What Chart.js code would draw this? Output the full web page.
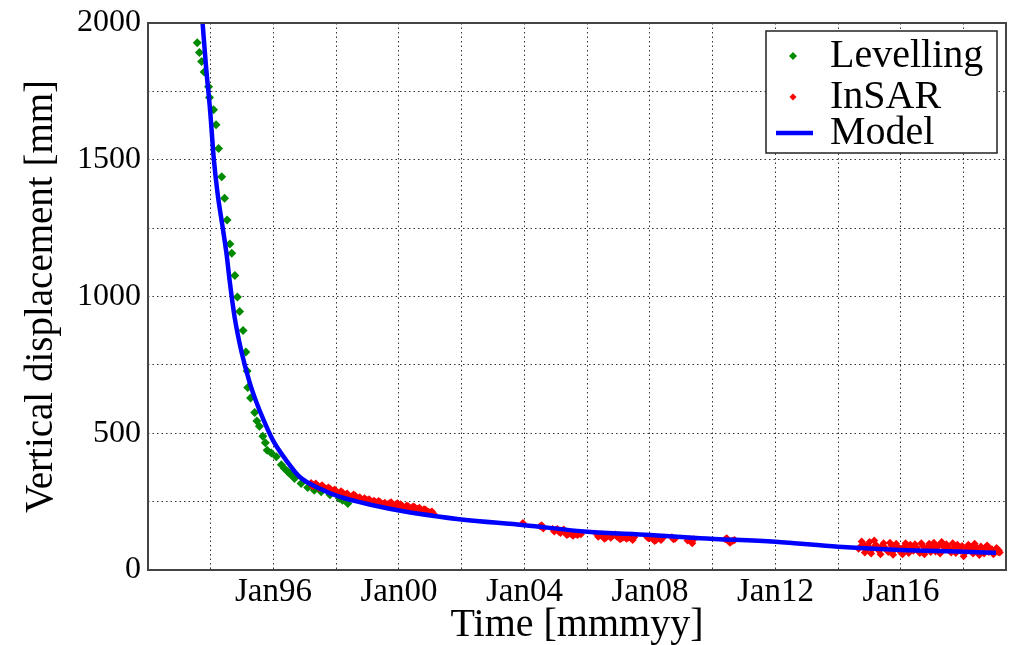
<!DOCTYPE html>
<html>
<head>
<meta charset="utf-8">
<title>Vertical displacement</title>
<script src="https://cdn.jsdelivr.net/npm/chart.js@4.4.1/dist/chart.umd.min.js"></script>
<style>
  body { margin: 0; background: #fff; }
  canvas { display: block; }
</style>
</head>
<body>
<canvas id="chart" width="1015" height="645"></canvas>
<script>
// Levelling (green diamonds)
const levYears = [1993.57, 1993.64, 1993.71, 1993.79, 1993.93, 1993.96, 1994.09, 1994.17, 1994.25, 1994.35,
  1994.44, 1994.52, 1994.61, 1994.67, 1994.77, 1994.85, 1994.92, 1995.03, 1995.12, 1995.16,
  1995.18, 1995.27, 1995.40, 1995.47, 1995.55, 1995.66, 1995.74, 1995.80, 1995.93, 1996.09,
  1996.25, 1996.35, 1996.45, 1996.51, 1996.60, 1996.67, 1996.88, 1997.09, 1997.30, 1997.52,
  1997.80, 1998.10, 1998.20, 1998.37];
const levValues = [1928, 1892, 1859, 1821, 1767, 1728, 1683, 1628, 1541, 1438,
  1359, 1280, 1192, 1158, 1077, 998, 945, 876, 797, 728,
  667, 629, 576, 545, 526, 489, 465, 438, 428, 414,
  385, 371, 360, 353, 345, 335, 316, 302, 292, 286,
  275, 262, 255, 243];

// InSAR (red diamonds), first pass of readings
const sarYears = [1997.2, 1997.3, 1997.4, 1997.5, 1997.6, 1997.7, 1997.8, 1997.9, 1998.0, 1998.1,
  1998.2, 1998.3, 1998.4, 1998.5, 1998.6, 1998.7, 1998.8, 1998.9, 1999.0, 1999.1,
  1999.2, 1999.3, 1999.4, 1999.5, 1999.6, 1999.7, 1999.8, 1999.9, 2000.0, 2000.1,
  2000.2, 2000.3, 2000.4, 2000.5, 2000.6, 2000.7, 2000.8, 2000.9, 2001.0, 2001.1,
  2003.95, 2004.5, 2004.6, 2004.9, 2005.0, 2005.1, 2005.2, 2005.3, 2005.4, 2005.5,
  2005.6, 2005.7, 2005.8, 2006.3, 2006.4, 2006.5, 2006.6, 2006.7, 2006.8, 2006.9,
  2007.0, 2007.1, 2007.2, 2007.3, 2007.4, 2007.5, 2007.9, 2008.0, 2008.1, 2008.2,
  2008.3, 2008.4, 2008.7, 2008.8, 2009.2, 2009.3, 2009.4, 2010.4, 2010.5, 2010.6,
  2010.7,
  2014.7, 2014.8, 2014.9, 2015.0, 2015.1, 2015.2, 2015.3, 2015.4, 2015.5, 2015.6,
  2015.7, 2015.8, 2015.9, 2016.0, 2016.1, 2016.2, 2016.3, 2016.4, 2016.5, 2016.6,
  2016.7, 2016.8, 2016.9, 2017.0, 2017.1, 2017.2, 2017.3, 2017.4, 2017.5, 2017.6,
  2017.7, 2017.8, 2017.9, 2018.0, 2018.1, 2018.2, 2018.3, 2018.4, 2018.5, 2018.6,
  2018.7, 2018.8, 2018.9, 2019.0, 2019.1, 2019.15];
const sarValues = [318, 312, 309, 305, 303, 296, 298, 290, 286, 280,
  283, 276, 271, 268, 272, 262, 258, 262, 255, 250,
  253, 246, 249, 242, 238, 244, 236, 240, 232, 236,
  229, 233, 226, 230, 224, 220, 222, 214, 210, 206,
  172, 160, 152, 150, 146, 140, 143, 136, 132, 130,
  134, 128, 131, 132, 126, 122, 118, 127, 124, 130,
  120, 116, 122, 118, 115, 120, 122, 118, 112, 110,
  118, 116, 120, 114, 108, 104, 112, 112, 106, 104,
  110,
  84, 95, 72, 102, 78, 92, 70, 88, 80, 66,
  90, 74, 84, 64, 86, 76, 92, 70, 82, 62,
  88, 74, 96, 80, 68, 90, 102, 76, 86, 64,
  80, 92, 70, 50, 78, 86, 60, 82, 55, 74,
  84, 66, 76, 70, 66, 64];

// InSAR, acquisitions in between
const sarYearsB = [1997.25, 1997.35, 1997.45, 1997.55, 1997.65, 1997.75, 1997.85, 1997.95, 1998.05, 1998.15,
  1998.25, 1998.35, 1998.45, 1998.55, 1998.65, 1998.75, 1998.85, 1998.95, 1999.05, 1999.15,
  1999.25, 1999.35, 1999.45, 1999.55, 1999.65, 1999.75, 1999.85, 1999.95, 2000.05, 2000.15,
  2000.25, 2000.35, 2000.45, 2000.55, 2000.65, 2000.75, 2000.85, 2000.95, 2001.05,
  2004.55, 2004.95, 2005.05, 2005.15, 2005.25, 2005.35, 2005.45, 2005.55, 2005.65, 2005.75,
  2006.35, 2006.45, 2006.55, 2006.65, 2006.75, 2006.85, 2006.95, 2007.05, 2007.15, 2007.25,
  2007.35, 2007.45, 2007.95, 2008.05, 2008.15, 2008.25, 2008.35, 2008.75, 2009.25, 2009.35,
  2010.45, 2010.55, 2010.65,
  2014.65, 2014.75, 2014.85, 2014.95, 2015.05, 2015.15, 2015.25, 2015.35, 2015.45, 2015.55,
  2015.65, 2015.75, 2015.85, 2015.95, 2016.05, 2016.15, 2016.25, 2016.35, 2016.45, 2016.55,
  2016.65, 2016.75, 2016.85, 2016.95, 2017.05, 2017.15, 2017.25, 2017.35, 2017.45, 2017.55,
  2017.65, 2017.75, 2017.85, 2017.95, 2018.05, 2018.15, 2018.25, 2018.35, 2018.45, 2018.55,
  2018.65, 2018.75, 2018.85, 2018.95, 2019.05, 2019.12];
const sarValuesB = [306, 316, 300, 310, 298, 302, 288, 294, 282, 288,
  274, 280, 266, 276, 264, 266, 254, 258, 259, 244,
  250, 252, 240, 246, 240, 248, 232, 244, 240, 226,
  236, 224, 232, 220, 228, 216, 220, 212, 214,
  164, 141, 150, 135, 148, 128, 138, 125, 130, 136,
  122, 130, 114, 124, 118, 128, 122, 112, 120, 114,
  121, 110, 116, 122, 106, 115, 110, 112, 112, 98,
  116, 100, 108,
  78, 104, 64, 90, 60, 108, 82, 58, 98, 72,
  100, 56, 96, 78, 58, 98, 62, 80, 94, 70,
  98, 58, 84, 66, 100, 82, 60, 86, 94, 70,
  98, 62, 80, 88, 64, 92, 74, 96, 68, 86,
  60, 90, 78, 58, 80, 72];

// Model (blue line)
const modYears = [1993.74, 1993.85, 1993.98, 1994.10, 1994.22, 1994.38, 1994.51, 1994.60, 1994.76, 1994.97,
  1995.23, 1995.45, 1995.66, 1995.98, 1996.40, 1996.83, 1997.47, 1998.10, 1999.17, 2000.23,
  2001.30, 2001.99, 2004.00, 2006.00, 2008.00, 2009.60, 2012.00, 2014.00, 2016.00, 2018.00,
  2019.03];
const modValues = [2000, 1840, 1680, 1500, 1375, 1253, 1150, 1060, 925, 803,
  690, 615, 555, 475, 402, 341, 298, 268, 237, 213,
  195, 185, 164, 140, 128, 116, 103, 85, 73, 67,
  63];

const xTickYears = [1996, 2000, 2004, 2008, 2012, 2016];
const xTickLabels = ['Jan96', 'Jan00', 'Jan04', 'Jan08', 'Jan12', 'Jan16'];
const yTickValues = [0, 500, 1000, 1500, 2000];

const toPoints = (xs, ys) => xs.map((x, i) => ({ x: x, y: ys[i] }));
const serif = '"Liberation Serif", "DejaVu Serif", serif';

// frame round the plot area
const frame = {
  id: 'frame',
  afterDraw(chart) {
    const { ctx, chartArea: a } = chart;
    ctx.save();
    ctx.strokeStyle = '#444';
    ctx.lineWidth = 2;
    ctx.strokeRect(a.left, a.top, a.right - a.left, a.bottom - a.top);
    ctx.restore();
  }
};

// legend box inside the top right corner
const boxLegend = {
  id: 'boxLegend',
  afterDraw(chart) {
    const { ctx, chartArea: a } = chart;
    const w = 231, h = 122;
    const x = a.right - 9 - w, y = a.top + 8;
    const rows = [25, 66, 102];
    ctx.save();
    ctx.fillStyle = '#fff';
    ctx.fillRect(x, y, w, h);
    ctx.strokeStyle = '#222';
    ctx.lineWidth = 1.5;
    ctx.strokeRect(x, y, w, h);
    chart.data.datasets.forEach((ds, i) => {
      const cy = y + rows[i];
      if (ds.showLine) {
        ctx.strokeStyle = ds.borderColor;
        ctx.lineWidth = ds.borderWidth;
        ctx.beginPath();
        ctx.moveTo(x + 10, cy);
        ctx.lineTo(x + 47, cy);
        ctx.stroke();
      } else {
        ctx.fillStyle = ds.backgroundColor;
        Chart.helpers.drawPoint(ctx, { pointStyle: ds.pointStyle, radius: ds.pointRadius - 0.5, borderWidth: 0, rotation: 0 }, x + 27, cy);
      }
      ctx.fillStyle = '#000';
      ctx.font = '40px ' + serif;
      ctx.textBaseline = 'middle';
      ctx.textAlign = 'left';
      ctx.fillText(ds.label, x + 64, cy);
    });
    ctx.restore();
  }
};

new Chart(document.getElementById('chart'), {
  type: 'scatter',
  data: {
    datasets: [
      {
        label: 'Levelling',
        data: toPoints(levYears, levValues),
        pointStyle: 'rectRot',
        pointRadius: 4.5,
        backgroundColor: '#008a00',
        borderWidth: 0,
        order: 2
      },
      {
        label: 'InSAR',
        data: toPoints(sarYears.concat(sarYearsB), sarValues.concat(sarValuesB)),
        pointStyle: 'rectRot',
        pointRadius: 4,
        backgroundColor: '#ff0000',
        borderWidth: 0,
        order: 1
      },
      {
        label: 'Model',
        data: toPoints(modYears, modValues),
        showLine: true,
        cubicInterpolationMode: 'monotone',
        borderColor: '#0000ff',
        borderWidth: 4.5,
        pointRadius: 0,
        order: 0
      }
    ]
  },
  options: {
    responsive: false,
    animation: false,
    layout: { padding: { top: 22, right: 9, left: 0, bottom: 0 } },
    plugins: {
      legend: { display: false },
      tooltip: { enabled: false }
    },
    scales: {
      x: {
        type: 'linear',
        min: 1992,
        max: 2019.35,
        afterFit: (s) => { s.height = 75; },
        border: { display: false, dash: [1.5, 3] },
        grid: { color: '#333', lineWidth: 1, drawTicks: false },
        ticks: {
          stepSize: 2,
          includeBounds: false,
          autoSkip: false,
          maxRotation: 0,
          padding: 3,
          color: '#000',
          font: { family: serif, size: 33, lineHeight: 1.2 },
          callback: (v) => {
            const i = xTickYears.indexOf(v);
            return i >= 0 ? xTickLabels[i] : '';
          }
        },
        title: {
          display: true,
          text: 'Time [mmmyy]',
          color: '#000',
          font: { family: serif, size: 40, lineHeight: 1 },
          padding: { top: 0, bottom: 0 }
        }
      },
      y: {
        min: 0,
        max: 2000,
        afterFit: (s) => { s.width = 148; },
        border: { display: false, dash: [1.5, 3] },
        grid: { color: '#333', lineWidth: 1, drawTicks: false },
        ticks: {
          stepSize: 250,
          autoSkip: false,
          padding: 7,
          color: '#000',
          font: { family: serif, size: 32, lineHeight: 1 },
          callback: (v) => yTickValues.includes(v) ? String(v) : ''
        },
        title: {
          display: true,
          text: 'Vertical displacement [mm]',
          color: '#000',
          font: { family: serif, size: 39, lineHeight: 1 },
          padding: { top: 22, bottom: 0 }
        }
      }
    }
  },
  plugins: [frame, boxLegend]
});
</script>
</body>
</html>
